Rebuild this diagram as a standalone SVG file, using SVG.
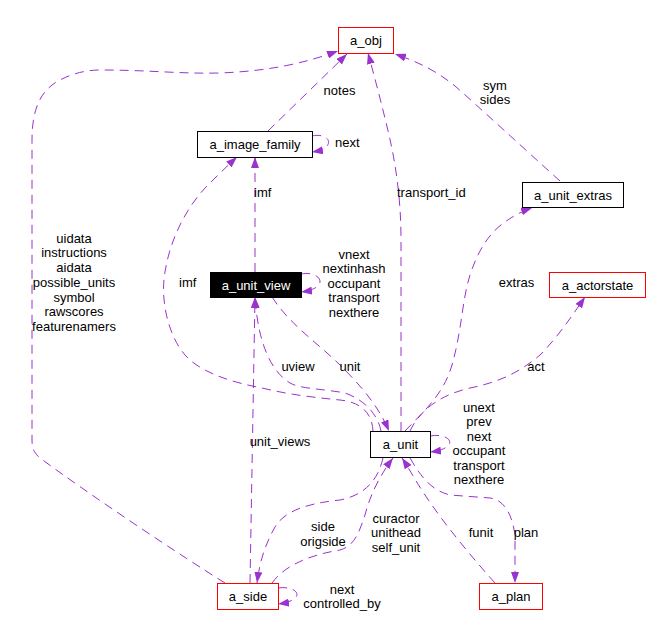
<svg xmlns="http://www.w3.org/2000/svg" width="652" height="617" viewBox="0 0 652 617">
<defs>
<marker id="ah" markerWidth="11" markerHeight="8" refX="11" refY="4" orient="auto" markerUnits="userSpaceOnUse"><path d="M0,0 L11,4 L0,8 z" fill="#9a32cd"/></marker>
<style>
.e{fill:none;stroke:#9a32cd;stroke-width:1;stroke-dasharray:9,6;marker-end:url(#ah)}
text{font-family:"Liberation Sans",Arial,sans-serif;font-size:13px;fill:#000}
.l{text-anchor:middle}
.n rect{fill:#fff;stroke:#000;stroke-width:1}
.n.r rect{stroke:#ff0000}
.n text{text-anchor:middle}
</style>
</defs>
<rect width="652" height="617" fill="#fff"/>
<g id="edges">
<path class="e" d="M225,583 C180,555 90,495 40,458 C33,452 32,447 32,440 L32,140 C32,110 40,90 60,80 C75,72 90,70 100,70 C150,70 180,74 220,73 C270,71 305,63 338,51"/>
<path class="e" d="M268,131 L347,54"/>
<path class="e" d="M312,136 C330,132 338,148 312,152"/>
<path class="e" d="M401,431 L401,240 C401,200 396,165 389,135 C382,105 374,75 368,53"/>
<path class="e" d="M560,181 C520,145 480,108 455,86 C435,70 418,62 395,54"/>
<path class="e" d="M255,272 L255,157"/>
<path class="e" d="M373,431 C372,412 360,402 340,400 C320,398 290,395 262,388 C230,382 200,372 185,355 C168,335 160,300 165,272 C170,240 185,210 205,188 C215,178 225,168 237,157"/>
<path class="e" d="M301,274 C320,270 332,288 301,292"/>
<path class="e" d="M272,297 C290,325 320,345 340,365 C360,385 378,405 389,431"/>
<path class="e" d="M381,431 C378,415 365,400 345,393 C325,389 300,389 290,383 C272,372 258,345 255,297"/>
<path class="e" d="M250,583 L255,297"/>
<path class="e" d="M405,431 C425,410 443,395 452,365 C462,330 462,300 470,275 C478,250 490,232 505,222 C512,217 520,212 532,208"/>
<path class="e" d="M410,431 C420,410 440,395 470,388 C500,382 520,372 540,355 C555,340 568,322 585,297"/>
<path class="e" d="M430,436 C450,432 462,448 430,452"/>
<path class="e" d="M383,458 C378,480 365,495 340,500 C310,503 285,510 275,527 C265,545 260,560 257,583"/>
<path class="e" d="M272,583 C285,565 310,555 340,550 C355,546 360,530 365,515 C370,495 380,475 393,458"/>
<path class="e" d="M278,588 C298,585 308,600 278,604"/>
<path class="e" d="M495,583 C470,555 445,525 425,495 C415,480 410,470 402,458"/>
<path class="e" d="M410,458 C420,475 430,490 450,495 L490,498 C505,500 512,515 515,535 L515,583"/>
</g>
<g id="labels">
<text class="l" x="339.5" y="95">notes</text>
<text x="335" y="147">next</text>
<text x="397" y="197">transport_id</text>
<text class="l" x="495" y="89.5">sym</text>
<text class="l" x="495" y="104">sides</text>
<text x="254" y="197">imf</text>
<text x="179" y="287">imf</text>
<text class="l" x="74" y="242.5">uidata</text>
<text class="l" x="74" y="257">instructions</text>
<text class="l" x="74" y="272">aidata</text>
<text class="l" x="74" y="287">possible_units</text>
<text class="l" x="74" y="301.5">symbol</text>
<text class="l" x="74" y="316">rawscores</text>
<text class="l" x="74" y="331">featurenamers</text>
<text class="l" x="354" y="258.5">vnext</text>
<text class="l" x="354" y="273">nextinhash</text>
<text class="l" x="354" y="287.5">occupant</text>
<text class="l" x="354" y="302">transport</text>
<text class="l" x="354" y="316.5">nexthere</text>
<text class="l" x="516.5" y="287">extras</text>
<text class="l" x="536" y="371">act</text>
<text class="l" x="298" y="371">uview</text>
<text class="l" x="350" y="371">unit</text>
<text class="l" x="280" y="446">unit_views</text>
<text class="l" x="479" y="411.5">unext</text>
<text class="l" x="479" y="426">prev</text>
<text class="l" x="479" y="440.5">next</text>
<text class="l" x="479" y="455">occupant</text>
<text class="l" x="479" y="469.5">transport</text>
<text class="l" x="479" y="484">nexthere</text>
<text class="l" x="323" y="531">side</text>
<text class="l" x="323" y="545.5">origside</text>
<text class="l" x="396" y="522.5">curactor</text>
<text class="l" x="396" y="537">unithead</text>
<text class="l" x="396" y="552">self_unit</text>
<text class="l" x="481" y="537">funit</text>
<text class="l" x="526" y="537">plan</text>
<text class="l" x="342" y="593.5">next</text>
<text class="l" x="342" y="608">controlled_by</text>
</g>
<g id="a_obj" class="n r"><rect x="338.5" y="27.5" width="55" height="26"/><text x="366" y="45">a_obj</text></g>
<g id="a_image_family" class="n"><rect x="197.5" y="131.5" width="115" height="26"/><text x="255" y="149">a_image_family</text></g>
<g id="a_unit_extras" class="n"><rect x="522.5" y="182.5" width="101" height="25"/><text x="573" y="199.5">a_unit_extras</text></g>
<g id="a_unit_view" class="n"><rect x="210.5" y="272.5" width="91" height="25" style="fill:#000"/><text x="256" y="289.5" style="fill:#fff">a_unit_view</text></g>
<g id="a_actorstate" class="n r"><rect x="549.5" y="272.5" width="96" height="25"/><text x="597.5" y="289.5">a_actorstate</text></g>
<g id="a_unit" class="n"><rect x="370.5" y="431.5" width="60" height="26"/><text x="400.5" y="449">a_unit</text></g>
<g id="a_side" class="n r"><rect x="217.5" y="583.5" width="61" height="26"/><text x="248" y="601">a_side</text></g>
<g id="a_plan" class="n r"><rect x="479.5" y="583.5" width="63" height="26"/><text x="511" y="601">a_plan</text></g>
</svg>
